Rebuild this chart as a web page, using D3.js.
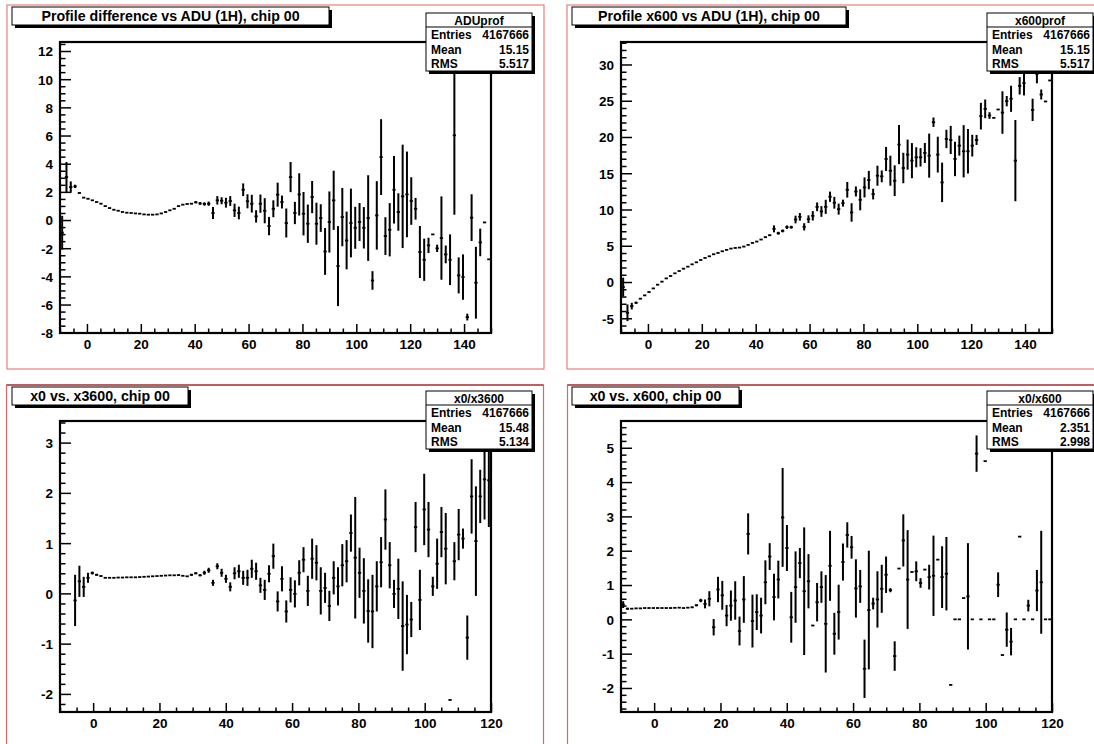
<!DOCTYPE html>
<html><head><meta charset="utf-8">
<script src="https://cdn.jsdelivr.net/npm/d3@7"></script>
<style>
html,body{margin:0;padding:0;background:#fff;overflow:hidden}
svg{display:block}
text{font-family:"Liberation Sans",Arial,Helvetica,sans-serif;font-weight:bold;fill:#000}
</style></head><body>
<svg id="c" width="1094" height="744"></svg>
<script>
// ---------------- data ----------------
const titles = ["Profile difference vs ADU (1H), chip 00", "Profile x600 vs ADU (1H), chip 00",
                "x0 vs. x3600, chip 00", "x0 vs. x600, chip 00"];
const statNames = ["ADUprof", "x600prof", "x0/x3600", "x0/x600"];
const statEntries = ["4167666", "4167666", "4167666", "4167666"];
const statMean = ["15.15", "15.15", "15.48", "2.351"];
const statRMS = ["5.517", "5.517", "5.134", "2.998"];
const statLabels = ["Entries", "Mean", "RMS"];

// binning: [xmin, xmax, nbins]
const binning1 = [-10, 150, 100];
const binning2 = [-10, 150, 100];
const binning3 = [-10, 120, 100];
const binning4 = [-10, 120, 100];

const p1Mean = [-0.9,3.05,2.34,2.39,1.92,1.59,1.51,1.40,1.28,1.16,
 0.99,0.85,0.73,0.66,0.57,0.52,0.50,0.47,0.45,0.40,
 0.38,0.38,0.40,0.47,0.57,0.69,0.80,0.99,1.09,1.14,
 1.16,1.26,1.18,1.14,1.16,0.50,1.40,1.37,1.23,1.35,
 0.69,0.50,2.15,1.33,1.16,0.26,1.16,0.66,-0.43,0.80,
 1.80,1.28,-0.21,3.05,0.50,1.82,0.45,-0.26,1.63,-0.26,
 0.14,-2.23,-0.14,1.40,-3.27,0.21,-1.45,-0.21,-0.55,-0.14,
 -0.55,0.14,-4.29,0.33,4.47,-1.14,-0.69,2.15,0.57,1.68,
 1.82,1.35,0.80,-2.27,-2.82,-1.80,-1.02,-2.01,-1.28,-2.44,
 -2.82,6.01,-3.93,-4.05,-6.89,0.17,-4.45,-1.59,-0.17,-2.79];
const p1Err = [1.2,1.07,0.4,0.12,0.04,0,0,0,0,0,
 0,0,0,0,0,0,0,0,0,0,
 0,0,0,0,0,0,0,0,0,0,
 0,0.08,0.1,0.12,0.15,0.43,0.3,0.25,0.35,0.35,
 0.47,0.45,0.45,0.5,0.63,0.44,0.65,0.89,0.65,0.6,
 0.85,0.46,1.03,1.07,0.79,1.5,1.54,1.36,1.14,1.49,
 0.98,1.66,2.17,2.1,2.84,2.07,2.05,2.44,1.49,1.35,
 1.47,3.04,0.66,2.43,2.69,1.34,1.89,2.4,1.33,3.67,
 3.04,1.69,0.77,1.85,1.5,0.54,0,0.26,2.96,0.63,
 1.8,5.63,1.28,1.61,0.24,1.66,2.55,0.98,0,0];

const p2Mean = [-0.7,-4.24,-3.32,-2.86,-2.3,-1.84,-1.38,-0.88,-0.37,0.05,
 0.5,0.83,1.2,1.52,1.84,2.12,2.44,2.72,3.04,3.32,
 3.55,3.83,4.01,4.24,4.43,4.61,4.70,4.75,4.89,5.12,
 5.39,5.58,5.86,6.18,6.45,7.33,6.73,7.05,7.56,7.56,
 8.62,8.99,7.61,8.67,9.13,10.37,9.73,10.37,11.76,10.93,
 10.05,10.88,12.72,9.59,12.49,11.34,13.05,14.06,12.13,14.66,
 14.57,16.97,15.35,13.97,18.95,15.72,17.57,16.74,17.2,17.2,
 17.8,17.43,22.04,17.57,13.74,19.73,19.59,16.97,18.81,18.03,
 18.03,18.81,19.59,22.87,23.88,22.96,22.64,23.79,23.37,24.94,
 25.27,16.74,27.06,27.43,30.2,23.74,28.7,25.86,24.9,27.8];
const p2Err = [1.3,1.15,0.46,0.15,0,0,0,0,0,0,
 0,0,0,0,0,0,0,0,0,0,
 0,0,0,0,0,0,0,0,0,0,
 0,0,0.05,0.08,0.1,0.48,0.2,0.2,0.25,0.2,
 0.53,0.53,0.5,0.53,0.65,0.6,0.74,0.97,0.71,0.81,
 0.76,0.48,1.08,1.27,0.69,1.45,1.38,1.27,0.74,1.38,
 0.81,1.66,2.07,2.12,2.7,2.1,2.07,2.42,1.38,1.27,
 1.38,3.04,0.65,2.47,2.72,1.27,1.94,2.37,1.38,3.6,
 3.07,1.5,0.69,1.84,1.29,0.46,0,0,2.93,0.71,
 1.8,5.6,1.2,1.7,1.0,1.54,1.3,0.69,0,0];

const p3Mean = [null,null,null,-0.14,0.24,0.13,0.31,0.405,0.37,0.345,
 0.31,0.31,0.31,0.315,0.315,0.32,0.32,0.32,0.325,0.33,
 0.335,0.34,0.345,0.35,0.355,0.36,0.36,0.365,0.35,0.34,
 0.37,0.40,0.36,0.41,0.46,0.21,0.54,0.41,0.29,0.13,
 0.40,0.44,0.31,0.31,0.49,0.44,0.16,0.07,0.39,0.74,
 -0.16,0.29,-0.36,0.07,-0.01,0.41,0.67,0.05,0.69,0.61,
 0.05,0.11,-0.25,0.31,0.14,0.56,0.64,1.2,0.71,0.41,
 0.05,-0.35,-0.36,0.14,0.62,1.47,0.56,-0.01,0.09,-0.65,
 -0.62,-0.52,1.32,-0.13,1.67,1.27,0.14,0.59,1.22,0.89,
 -2.12,0.64,1.17,1.09,-0.88,1.93,1.04,1.93,2.27,2.25];
const p3Err = [null,null,null,0.51,0.31,0.2,0.1,0.03,0.02,0.01,
 0,0,0,0,0,0,0,0,0,0,
 0,0,0,0,0,0,0,0,0,0,
 0.02,0.02,0.02,0.04,0.05,0.06,0.06,0.08,0.08,0.09,
 0.12,0.13,0.14,0.16,0.18,0.17,0.15,0.2,0.17,0.25,
 0.2,0.25,0.22,0.25,0.27,0.25,0.25,0.3,0.4,0.35,
 0.47,0.3,0.3,0.33,0.38,0.42,0.42,0.37,1.21,0.5,
 0.65,0.63,0.73,0.5,0.5,0.6,0.46,0.28,0.6,0.89,
 0.59,0.35,0.5,0.6,0.71,0.55,0.19,0.5,0.5,0.71,
 0,0.38,0.51,0.2,0.44,0.74,1.09,0.53,0.8,0.93];

const p4Mean = [0.43,0.31,0.31,0.32,0.32,0.33,0.33,0.33,0.33,0.33,
 0.33,0.33,0.335,0.34,0.33,0.34,0.35,0.41,0.55,0.45,
 0.6,-0.23,0.87,0.7,0.11,0.4,0.55,-0.34,0.58,2.49,
 -0.05,0.21,0.11,1.08,1.83,0.65,1.16,2.97,2.08,0.06,
 0.94,1.64,0.82,1.11,-0.18,0.5,0.94,-0.13,1.56,-0.42,
 0.21,1.67,2.46,2.1,0.9,0.96,-1.44,0.27,0.46,0.58,
 0.89,1.3,0.85,-1.07,1.48,2.3,1.16,1.38,1.4,1.06,
 1.45,1.23,1.27,1.74,1.23,1.33,-1.91,0,0,0.62,
 0.67,0,4.83,0,4.61,0,0,1.01,-1.04,-0.3,
 -0.65,0,2.41,0,0.4,0,0.84,1.08,0,0];
const p4Err = [0.1,0.03,0,0,0,0,0,0,0,0,
 0,0,0,0,0,0,0.02,0.03,0.05,0.13,
 0.22,0.24,0.37,0.42,0.31,0.44,0.56,0.42,0.68,0.6,
 0.77,0.52,0.52,0.64,0.39,0.68,0.55,1.44,0.67,0.74,
 1.04,0.44,1.86,0.79,0,0.56,0.46,1.42,1.02,0.61,
 0.8,0.54,0.37,0.33,0.85,0.48,0.85,1.73,0.17,0.82,
 0.7,0.53,0.06,0.43,0,0.76,1.44,0,0.29,0.14,
 0,0.36,1.17,0,0.9,1.07,0,0,0,0,
 1.55,0,0.53,0,0,0,0,0.36,0,0.5,
 0.4,0,0,0,0.17,0,0.6,1.5,0,0];

// axis ranges and tick steps
const yRange1 = [-8.02, 12.64], yRange2 = [-7.03, 33.1], yRange3 = [-2.36, 3.43], yRange4 = [-2.70, 5.78];
const yMajor = [2, 5, 1, 1], yMinor = [0.5, 1, 0.2, 0.2];
const xMajor = 20, xMinor = 5;

// ---------------- layout ----------------
const layouts = [
  {pad:[7,5], frame:{l:60,r:491,t:42,b:333}, tbox:{x:12,y:7,w:317,h:18}, sbox:{x:426,y:13}},
  {pad:[567,5], frame:{l:621,r:1052,t:42,b:333}, tbox:{x:572,y:7,w:274,h:18}, sbox:{x:987,y:13}},
  {pad:[6.5,385], frame:{l:60,r:491,t:421,b:712}, tbox:{x:12,y:387,w:176,h:18}, sbox:{x:426,y:391}},
  {pad:[567.5,385], frame:{l:621,r:1052,t:421,b:712}, tbox:{x:572,y:387,w:167,h:18}, sbox:{x:987,y:391}}
];
const datasets = [[binning1,p1Mean,p1Err,yRange1],[binning2,p2Mean,p2Err,yRange2],
                  [binning3,p3Mean,p3Err,yRange3],[binning4,p4Mean,p4Err,yRange4]];

const svg = d3.select("#c");
const fmt = d => { const v = Math.round(d*1000)/1000; return String(v); };
function steps(d0, d1, s){ const a=[]; for(let v=Math.ceil(d0/s-1e-9)*s; v<=d1+1e-9; v+=s) a.push(Math.round(v*1e6)/1e6); return a; }

datasets.forEach((ds, k) => {
  const [bin, means, errs, yr] = ds;
  const L = layouts[k], f = L.frame;
  const g = svg.append("g");
  // pad border
  g.append("rect").attr("x", L.pad[0]).attr("y", L.pad[1]).attr("width", 537).attr("height", 364)
    .attr("fill", "none").attr("stroke", k < 2 ? "#e77f7f" : "#d46a6a").attr("stroke-width", 1.2);
  if (k >= 2) g.append("line").attr("x1", L.pad[0]).attr("x2", L.pad[0]+537).attr("y1", L.pad[1]).attr("y2", L.pad[1])
      .attr("stroke", "#b04848").attr("stroke-width", 1.3);

  const x = d3.scaleLinear().domain([bin[0], bin[1]]).range([f.l, f.r]);
  const y = d3.scaleLinear().domain(yr).range([f.b, f.t]);
  const bw = (bin[1]-bin[0])/bin[2];

  // clip
  const cid = "clip"+k;
  g.append("clipPath").attr("id", cid).append("rect")
    .attr("x", f.l).attr("y", f.t).attr("width", f.r-f.l).attr("height", f.b-f.t);

  // data
  const pts = means.map((m,i)=>({i, m, e: errs[i], c: bin[0]+bw*(i+0.5)})).filter(d=>d.m!==null);
  const dg = g.append("g").attr("clip-path", `url(#${cid})`);
  dg.selectAll("line.h").data(pts).join("line").attr("class","h")
    .attr("x1", d=>x(d.c - bw*0.38)).attr("x2", d=>x(d.c + bw*0.38))
    .attr("y1", d=>y(d.m)).attr("y2", d=>y(d.m))
    .attr("stroke", "#000").attr("stroke-width", 1.8);
  dg.selectAll("line.v").data(pts.filter(d=>d.e>0)).join("line").attr("class","v")
    .attr("x1", d=>x(d.c)).attr("x2", d=>x(d.c))
    .attr("y1", d=>y(d.m - d.e)).attr("y2", d=>y(d.m + d.e))
    .attr("stroke", "#000").attr("stroke-width", 2);

  // axes
  const xMaj = steps(bin[0], bin[1], xMajor);
  const xMin = steps(bin[0], bin[1], xMinor).filter(v=>!xMaj.includes(v));
  const yMaj = steps(yr[0], yr[1], yMajor[k]);
  const yMin = steps(yr[0], yr[1], yMinor[k]).filter(v=>!yMaj.some(m=>Math.abs(m-v)<1e-6));

  const axB = g.append("g").attr("transform", `translate(0,${f.b})`)
    .call(d3.axisBottom(x).tickValues(xMaj).tickSize(-9).tickPadding(6).tickFormat(fmt));
  const axBm = g.append("g").attr("transform", `translate(0,${f.b})`)
    .call(d3.axisBottom(x).tickValues(xMin).tickSize(-4.5).tickFormat(""));
  const axL = g.append("g").attr("transform", `translate(${f.l},0)`)
    .call(d3.axisLeft(y).tickValues(yMaj).tickSize(-11).tickPadding(7).tickFormat(fmt));
  const axLm = g.append("g").attr("transform", `translate(${f.l},0)`)
    .call(d3.axisLeft(y).tickValues(yMin).tickSize(-5.5).tickFormat(""));
  [axB, axBm, axL, axLm].forEach(a => {
    a.select(".domain").remove();
    a.selectAll(".tick line").attr("stroke", "#000").attr("stroke-width", 1.5);
    a.selectAll("text").attr("font-size", 13.5).attr("font-family", "Liberation Sans, Arial, sans-serif")
      .attr("font-weight", "bold").attr("fill", "#000");
  });
  axL.selectAll("text").attr("dy", "0.36em");

  // frame
  g.append("rect").attr("x", f.l).attr("y", f.t).attr("width", f.r-f.l).attr("height", f.b-f.t)
    .attr("fill", "none").attr("stroke", "#000").attr("stroke-width", 2.2);

  // title box
  const t = L.tbox;
  g.append("rect").attr("x", t.x+3).attr("y", t.y+3).attr("width", t.w).attr("height", t.h).attr("fill", "#000");
  g.append("rect").attr("x", t.x).attr("y", t.y).attr("width", t.w).attr("height", t.h)
    .attr("fill", "#fff").attr("stroke", "#000").attr("stroke-width", 1);
  g.append("text").attr("x", t.x + t.w/2).attr("y", t.y + 14).attr("text-anchor", "middle")
    .attr("font-size", 14.2).text(titles[k]);

  // stats box
  const s = L.sbox, sw = 106, sh = 58;
  g.append("rect").attr("x", s.x+3).attr("y", s.y+3).attr("width", sw).attr("height", sh).attr("fill", "#000");
  g.append("rect").attr("x", s.x).attr("y", s.y).attr("width", sw).attr("height", sh)
    .attr("fill", "#fff").attr("stroke", "#000").attr("stroke-width", 1);
  g.append("line").attr("x1", s.x).attr("x2", s.x+sw).attr("y1", s.y+14).attr("y2", s.y+14)
    .attr("stroke", "#000").attr("stroke-width", 1);
  g.append("text").attr("x", s.x+sw/2).attr("y", s.y+11.5).attr("text-anchor", "middle")
    .attr("font-size", 12).text(statNames[k]);
  const vals = [statEntries[k], statMean[k], statRMS[k]];
  statLabels.forEach((lab, j) => {
    const yy = s.y + 26 + j*14.5;
    g.append("text").attr("x", s.x+5).attr("y", yy).attr("font-size", 12).text(lab);
    g.append("text").attr("x", s.x+sw-3).attr("y", yy).attr("text-anchor", "end").attr("font-size", 12).text(vals[j]);
  });
});
</script>
</body></html>
